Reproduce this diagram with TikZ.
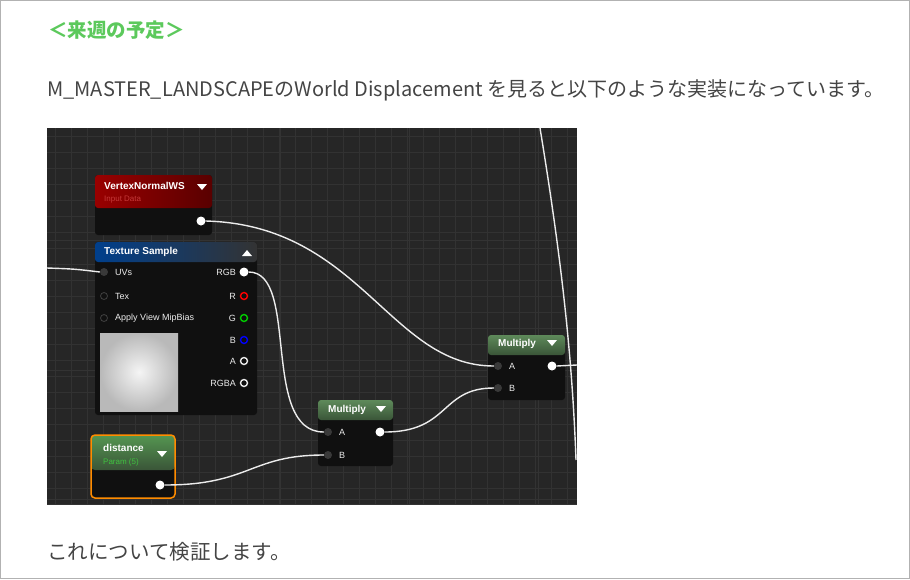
\documentclass[tikz,border=0pt]{standalone}
\usepackage{fontspec}
\setmainfont{Noto Sans CJK JP}
\newfontfamily\ue{Liberation Sans}
\usetikzlibrary{calc}
\definecolor{txt}{HTML}{444444}
\definecolor{ttl}{HTML}{5CC95C}
\definecolor{bgd}{HTML}{262626}
\definecolor{gridc}{HTML}{323232}
\definecolor{body}{HTML}{101010}
\definecolor{mulh}{HTML}{5E8A5A}
\definecolor{mulh2}{HTML}{3A5538}
\tikzset{
  x=1pt,y=-1pt,
  wire/.style={draw=white!85!gray,line width=1.4pt},
  inpin/.style={circle,fill=gray!45!black,inner sep=0pt,minimum size=8pt},
  outpin/.style={circle,fill=white,inner sep=0pt,minimum size=9pt},
  emptypin/.style={circle,draw=gray!50!black,line width=0.8pt,inner sep=0pt,minimum size=7pt},
  cpin/.style={circle,draw=#1,line width=1.4pt,inner sep=0pt,minimum size=7pt},
  lbl/.style={font=\ue\fontsize{9}{11}\selectfont,text=white!85!gray,inner sep=1pt},
  hdr/.style={font=\ue\bfseries\fontsize{10}{12}\selectfont,text=white,inner sep=1pt,anchor=west},
}
\begin{document}
\begin{tikzpicture}
\useasboundingbox (0,0) rectangle (910,579);
\draw[gray!60,line width=1pt] (0.5,0.5) rectangle (909.5,578.5);
\node[anchor=west,text=ttl,font=\bfseries\fontsize{19.5}{22}\selectfont,inner sep=0pt] (title) at (48,30) {＜来週の予定＞};
\node[anchor=west,text=txt,font=\fontsize{20}{24}\selectfont,inner sep=0pt] (line1) at (47,90) {M\_MASTER\_LANDSCAPEのWorld Displacement を見ると以下のような実装になっています。};
\node[anchor=west,text=txt,font=\fontsize{20.5}{24}\selectfont,inner sep=0pt] (line2) at (47,552) {これについて検証します。};
% editor image
\fill[bgd] (47,128) rectangle (577,505);
\begin{scope}
\clip (47,128) rectangle (577,505);
\foreach \x in {55,71,...,577} \draw[gridc,line width=0.6pt] (\x,128) -- (\x,505);
\foreach \y in {136,152,...,505} \draw[gridc,line width=0.6pt] (47,\y) -- (577,\y);
\foreach \x in {151,280,409,538} \draw[black!80,line width=1pt] (\x,128) -- (\x,505);
\foreach \y in {240,370,499} \draw[black!80,line width=1pt] (47,\y) -- (577,\y);
\end{scope}
% VertexNormalWS
\fill[body,rounded corners=3pt] (95,175) rectangle (212,235);
\shade[left color=red!60!black,right color=red!35!black,rounded corners=3pt] (95,175) rectangle (212,208);
\node[hdr] (vnh) at (103,186) {VertexNormalWS};
\node[font=\ue\fontsize{8}{9}\selectfont,text=red!55!gray,anchor=west,inner sep=1pt] (vns) at (103,200) {Input Data};
\fill[white] (197,184) -- (207,184) -- (202,190) -- cycle;
\node[outpin] (vnout) at (201,221) {};
% Texture sample
\fill[body,rounded corners=3pt] (95,242) rectangle (257,415);
\shade[left color=cyan!45!blue!55!black,right color=black!80,rounded corners=3pt] (95,242) rectangle (257,262);
\node[hdr] (tsh) at (103,252) {Texture Sample};
\fill[white] (242,256) -- (252,256) -- (247,250) -- cycle;
\node[inpin] (uv) at (104,272) {};
\node[lbl,anchor=west] (uvl) at (114,272) {UVs};
\node[emptypin] (tex) at (104,296) {};
\node[lbl,anchor=west] (texl) at (114,296) {Tex};
\node[emptypin] (mip) at (104,318) {};
\node[lbl,anchor=west] (mipl) at (114,318) {Apply View MipBias};
\node[outpin] (rgb) at (244,272) {};
\node[lbl,anchor=east] (rgbl) at (237,272) {RGB};
\node[cpin=red] (r) at (244,296) {};
\node[lbl,anchor=east] (rl) at (237,296) {R};
\node[cpin=green!80!black] (g) at (244,318) {};
\node[lbl,anchor=east] (gl) at (237,318) {G};
\node[cpin=blue] (b) at (244,340) {};
\node[lbl,anchor=east] (bl) at (237,340) {B};
\node[cpin=white!85!gray] (a) at (244,361) {};
\node[lbl,anchor=east] (al) at (237,361) {A};
\node[cpin=white!85!gray] (rgba) at (244,383) {};
\node[lbl,anchor=east] (rgbal) at (237,383) {RGBA};
\shade[inner color=white!92!gray,outer color=gray!55!white] (100,333) rectangle (178,411);
% distance
\fill[body,rounded corners=4pt] (91,435) rectangle (175,498);
\shade[top color=mulh!90!green,bottom color=mulh2,rounded corners=4pt] (91,435) rectangle (175,470);
\draw[orange!90!yellow,line width=1.5pt,rounded corners=4pt] (91,435) rectangle (175,498);
\node[hdr] (dh) at (102,448) {distance};
\node[font=\ue\fontsize{8}{9}\selectfont,text=green!50!gray,anchor=west,inner sep=1pt] (ds) at (102,462) {Param (5)};
\fill[white] (157,451) -- (167,451) -- (162,457) -- cycle;
\node[outpin] (dout) at (160,485) {};
% Multiply 1
\fill[body,rounded corners=3pt] (318,400) rectangle (393,466);
\shade[top color=mulh,bottom color=mulh2,rounded corners=3pt] (318,400) rectangle (393,420);
\node[hdr] (m1h) at (327,410) {Multiply};
\fill[white] (376,406) -- (386,406) -- (381,412) -- cycle;
\node[inpin] (m1a) at (328,432) {};
\node[lbl,anchor=west] at (338,432) {A};
\node[inpin] (m1b) at (328,455) {};
\node[lbl,anchor=west] at (338,455) {B};
\node[outpin] (m1out) at (380,432) {};
% Multiply 2
\fill[body,rounded corners=3pt] (488,335) rectangle (565,400);
\shade[top color=mulh,bottom color=mulh2,rounded corners=3pt] (488,335) rectangle (565,355);
\node[hdr] (m2h) at (497,344) {Multiply};
\fill[white] (547,340) -- (557,340) -- (552,346) -- cycle;
\node[inpin] (m2a) at (498,366) {};
\node[lbl,anchor=west] at (508,366) {A};
\node[inpin] (m2b) at (498,388) {};
\node[lbl,anchor=west] at (508,388) {B};
\node[outpin] (m2out) at (552,366) {};
\coordinate (uvin) at (47,268);
\coordinate (m2end) at (577,365);
\coordinate (vtop) at (540,128);
\coordinate (vbot) at (576,460);
% wires
\draw[wire] (uvin) .. controls (75,269) .. (uv.west);
\draw[wire] (vnout.east) .. controls (360,225) and (390,366) .. (m2a.west);
\draw[wire] (rgb.east) .. controls (300,272) and (260,432) .. (m1a.west);
\draw[wire] (dout.east) .. controls (250,485) and (250,455) .. (m1b.west);
\draw[wire] (m1out.east) .. controls (450,432) and (440,388) .. (m2b.west);
\draw[wire] (m2out.east) -- (m2end);
\draw[wire] (vtop) .. controls (560,250) and (572,350) .. (vbot);
\end{tikzpicture}
\end{document}
